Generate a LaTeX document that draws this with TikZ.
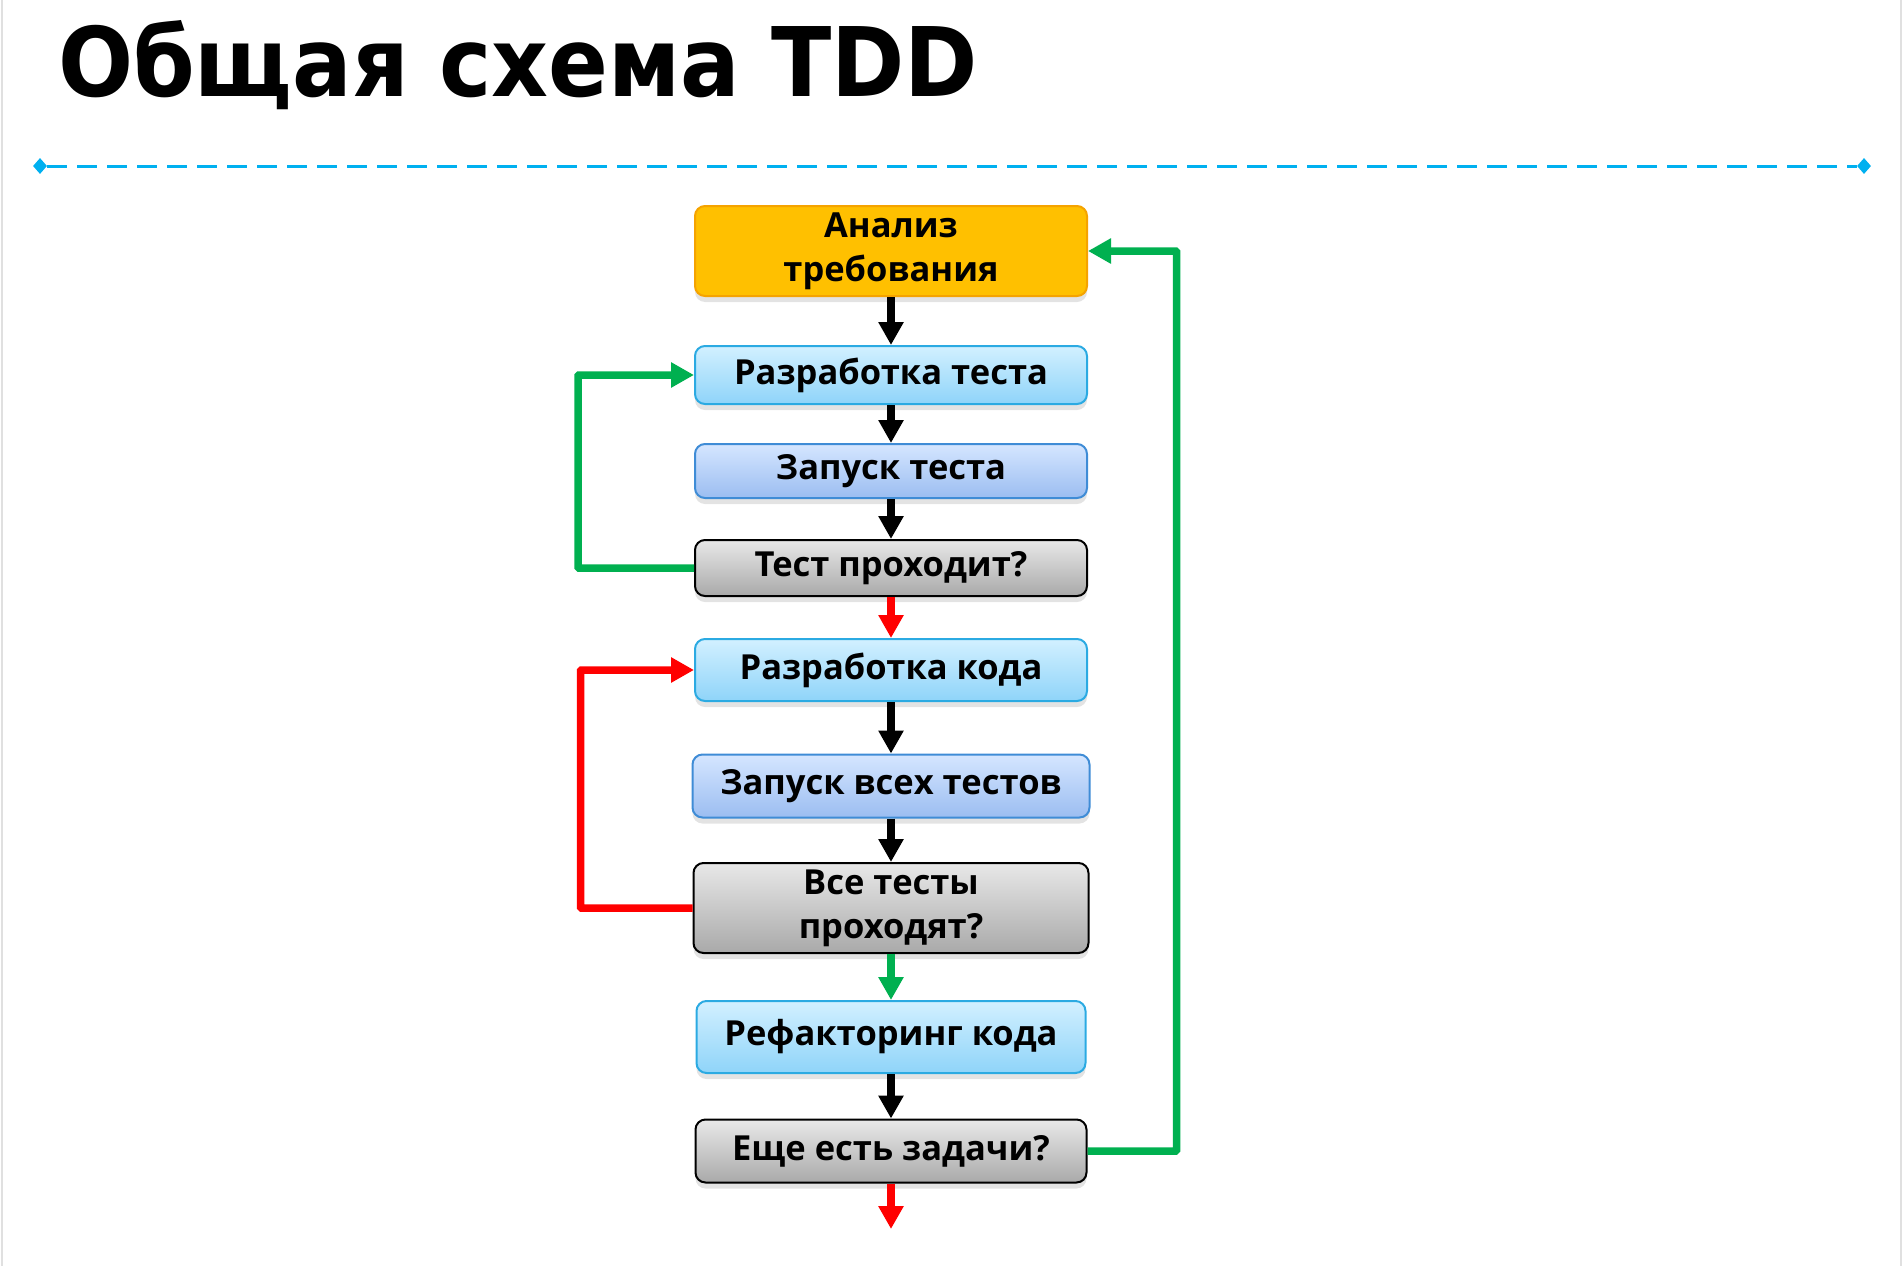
\documentclass[tikz,border=0pt]{standalone}
\usepackage{fontspec}
\setmainfont{Open Sans}
\newfontfamily\titlefont{DejaVu Sans}
\usetikzlibrary{arrows.meta,shadows,shapes.geometric}

\definecolor{reqfill}{HTML}{FFC000}
\definecolor{reqline}{HTML}{F5A300}
\definecolor{devtop}{HTML}{D2F0FF}
\definecolor{devbot}{HTML}{8FD4F9}
\definecolor{devline}{HTML}{2BAAE2}
\definecolor{runtop}{HTML}{D5E6FF}
\definecolor{runbot}{HTML}{9BBDF1}
\definecolor{runline}{HTML}{3F8CD6}
\definecolor{asktop}{HTML}{E8E8E8}
\definecolor{askbot}{HTML}{A9A9A9}
\definecolor{okgreen}{HTML}{00B050}
\definecolor{failred}{HTML}{FF0000}
\definecolor{rulecyan}{HTML}{00B0F0}

\tikzset{
  box/.style={rectangle, rounded corners=10pt, line width=2pt, minimum width=392pt,
    align=center, inner sep=0pt, font=\fontsize{34.5}{44}\selectfont\bfseries,
    drop shadow={opacity=.22, shadow xshift=0pt, shadow yshift=-6pt}},
  reqbox/.style={box, draw=reqline, fill=reqfill},
  devbox/.style={box, draw=devline, top color=devtop, bottom color=devbot},
  runbox/.style={box, draw=runline, top color=runtop, bottom color=runbot},
  askbox/.style={box, draw=black, top color=asktop, bottom color=askbot},
  flow/.style={line width=8pt, -{Triangle[width=24pt,length=23pt]}},
  loopback/.style={line width=7.5pt, rounded corners=1pt, -{Triangle[width=24pt,length=23pt]}},
  tip/.style={diamond, fill=rulecyan, inner sep=0pt, minimum width=14pt, minimum height=16pt},
}

\begin{document}
\begin{tikzpicture}[x=1pt,y=-1pt]
  \useasboundingbox (0,0) rectangle (1904,1266);
  % slide edges
  \draw[black!12, line width=2pt] (1.5,0) -- (1.5,1266);
  \draw[black!12, line width=2pt] (1901,0) -- (1901,1266);

  % title and rule
  \node[anchor=base west, inner sep=0pt, font=\titlefont\fontsize{96}{110}\selectfont\bfseries] (title) at (58,96) {\scalebox{0.92}[1]{Общая схема TDD}};
  \node[tip] (ruleL) at (40,166) {};
  \node[tip] (ruleR) at (1864,166) {};
  \draw[rulecyan, line width=3pt, dash pattern=on 20pt off 10pt] (ruleL) -- (ruleR);

  % steps
  \node[reqbox, minimum height=90pt] (req) at (891,251) {Анализ\\требования};
  \node[devbox, minimum height=58pt] (wtest) at (891,375) {Разработка теста};
  \node[runbox, minimum height=54pt] (rtest) at (891,471) {Запуск теста};
  \node[askbox, minimum height=56pt] (qtest) at (891,568) {Тест проходит?};
  \node[devbox, minimum height=62pt] (wcode) at (891,670) {Разработка кода};
  \node[runbox, minimum height=63pt, minimum width=397pt] (rall) at (891,786) {Запуск всех тестов};
  \node[askbox, minimum height=90pt, minimum width=395pt] (qall) at (891,908) {Все тесты\\проходят?};
  \node[devbox, minimum height=72pt, minimum width=389pt] (refac) at (891,1037) {Рефакторинг кода};
  \node[askbox, minimum height=63pt, minimum width=391pt] (qmore) at (891,1151) {Еще есть задачи?};
  \coordinate (done) at (891,1229);

  % main flow
  \draw[flow] (req) -- (wtest);
  \draw[flow] (wtest) -- (rtest);
  \draw[flow] (rtest) -- (qtest);
  \draw[flow, failred] (qtest) -- (wcode);
  \draw[flow] (wcode) -- (rall);
  \draw[flow] (rall) -- (qall);
  \draw[flow, okgreen] (qall) -- (refac);
  \draw[flow] (refac) -- (qmore);
  \draw[flow, failred] (qmore.south) -- (done);

  % loops
  \draw[loopback, okgreen] (qtest.west) -- ++(-116,0) |- (wtest.west);
  \draw[loopback, failred] (qall.west) -- ++(-112,0) |- (wcode.west);
  \draw[loopback, okgreen] (qmore.east) -- ++(89,0) |- (req.east);
\end{tikzpicture}
\end{document}
